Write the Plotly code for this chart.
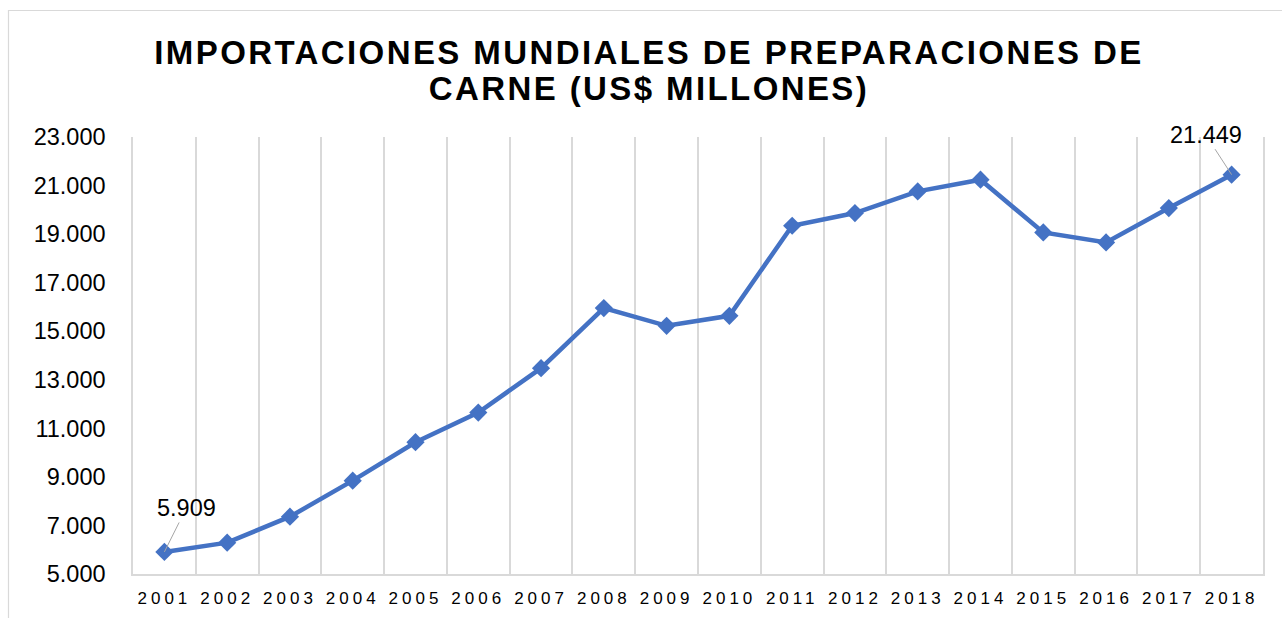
import plotly.graph_objects as go

# ---- data ----
years = ["2001", "2002", "2003", "2004", "2005", "2006", "2007", "2008", "2009",
         "2010", "2011", "2012", "2013", "2014", "2015", "2016", "2017", "2018"]
values = [5909, 6290, 7362, 8846, 10428, 11649, 13479, 15952, 15223,
          15635, 19345, 19868, 20759, 21241, 19069, 18656, 20074, 21449]
y_ticks = [5000, 7000, 9000, 11000, 13000, 15000, 17000, 19000, 21000, 23000]
title_lines = ["IMPORTACIONES MUNDIALES DE PREPARACIONES DE", "CARNE (US$ MILLONES)"]
labeled_years = ["2001", "2018"]

def fmt(v):
    return f"{v:,}".replace(",", ".")

W, H = 1282, 618
L, R, T, B = 133, 19, 137, 44
plot_w = W - L - R
plot_h = H - T - B
GRID = "#d9d9d9"
FONT = "Liberation Sans, Arial, sans-serif"

fig = go.Figure()
fig.add_trace(go.Scatter(
    x=years, y=values, mode="lines+markers",
    line=dict(color="#4472C4", width=4.5),
    marker=dict(symbol="diamond", size=14, color="#4472C4"),
    hoverinfo="x+y", showlegend=False,
))

# data labels with leader lines
label_offsets = {"2001": (22, -44), "2018": (-26, -40)}
for yr in labeled_years:
    i = years.index(yr)
    v = values[i]
    ax, ay = label_offsets[yr]
    fig.add_annotation(
        x=i, y=v, xref="x", yref="y", text=fmt(v), showarrow=True,
        arrowhead=0, arrowwidth=1, arrowcolor="#a6a6a6",
        ax=ax, ay=ay, standoff=0,
        font=dict(family=FONT, size=23.5, color="#000000"),
    )

# outer chart frame
def px_to_paper_x(px):
    return (px - L) / plot_w

def px_to_paper_y(py):
    return (H - B - py) / plot_h

fig.add_shape(type="rect", xref="paper", yref="paper",
              x0=px_to_paper_x(8.5), x1=px_to_paper_x(W + 10),
              y0=px_to_paper_y(H + 10), y1=px_to_paper_y(10.5),
              line=dict(color=GRID, width=1.2), layer="above")

fig.update_layout(
    width=W, height=H,
    margin=dict(l=L, r=R, t=T, b=B, autoexpand=False),
    paper_bgcolor="white", plot_bgcolor="white",
    separators=",.",
    font=dict(family=FONT, color="#000000"),
    title=dict(
        text="<br>".join(title_lines),
        x=649 / W, xref="container", xanchor="center",
        y=1 - 64 / H, yref="container", yanchor="top",
        font=dict(family=FONT, size=33, color="#000000", weight="bold"),
        automargin=False,
    ),
    xaxis=dict(
        type="category", tickson="boundaries",
        showgrid=True, gridcolor=GRID, gridwidth=1.5,
        showline=True, linecolor=GRID, linewidth=1.5,
        ticks="", ticklabelstandoff=8, automargin=False,
        tickfont=dict(family=FONT, size=17, color="#000000"),
        range=[-0.5, len(years) - 0.5],
        fixedrange=True,
    ),
    yaxis=dict(
        range=[y_ticks[0], y_ticks[-1]],
        tickvals=y_ticks, tickformat=",d",
        showgrid=False, zeroline=False, automargin=False,
        showline=True, mirror=True, linecolor=GRID, linewidth=1.5,
        ticks="", ticklabelstandoff=21,
        tickfont=dict(family=FONT, size=23.5, color="#000000"),
        fixedrange=True,
    ),
)

post = """
document.body.style.margin='0';
document.body.style.overflow='hidden';
var s=document.createElement('style');
s.textContent='.gtitle{letter-spacing:2.4px;} .xtick text{letter-spacing:4px;}';
document.head.appendChild(s);
var lines=document.querySelectorAll('.gtitle tspan.line');
for(var k=1;k<lines.length;k++){lines[k].setAttribute('dy','1.09em');}
"""
fig.write_html("out.html", post_script=post, config={"displayModeBar": False})
